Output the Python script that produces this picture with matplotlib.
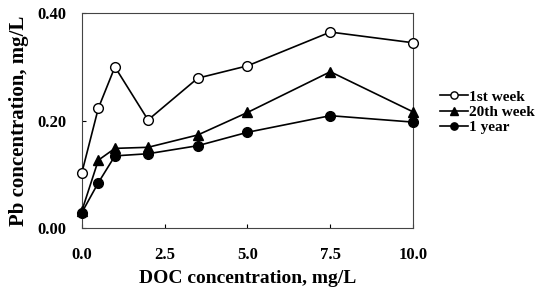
import matplotlib
matplotlib.use("Agg")
import matplotlib.pyplot as plt
from matplotlib.ticker import FormatStrFormatter

doc = [0.0, 0.5, 1.0, 2.0, 3.5, 5.0, 7.5, 10.0]
week1 = [0.102, 0.223, 0.300, 0.201, 0.279, 0.302, 0.365, 0.345]
week20 = [0.031, 0.126, 0.148, 0.150, 0.173, 0.215, 0.291, 0.216]
year1 = [0.028, 0.084, 0.134, 0.138, 0.153, 0.178, 0.209, 0.197]
labels = ["1st week", "20th week", "1 year"]

plt.rcParams["font.family"] = ["Liberation Serif", "DejaVu Serif"]
plt.rcParams["font.weight"] = "bold"

fig = plt.figure(figsize=(5.38, 2.91), dpi=100)
ax = fig.add_axes([0.152, 0.2175, 0.616, 0.7368])

style = dict(color="black", lw=1.2, markersize=7, clip_on=False, zorder=3)
ax.plot(doc, week1, marker="o", mfc="white", mec="black", mew=1.0, label=labels[0], **style)
ax.plot(doc, week20, marker="^", mfc="black", mec="black", label=labels[1], **style)
ax.plot(doc, year1, marker="o", mfc="black", mec="black", label=labels[2], **style)

ax.set_xlim(0, 10)
ax.set_ylim(0, 0.4)
ax.set_xticks([0, 2.5, 5, 7.5, 10])
ax.set_yticks([0, 0.2, 0.4])
ax.xaxis.set_major_formatter(FormatStrFormatter("%.1f"))
ax.yaxis.set_major_formatter(FormatStrFormatter("%.2f"))
ax.tick_params(direction="in", length=3, width=0.8, labelsize=12)
ax.tick_params(axis="x", pad=14)
ax.tick_params(axis="y", pad=11)
for s in ax.spines.values():
    s.set_linewidth(0.8)
    s.set_color("#444444")

ax.set_xlabel("DOC concentration, mg/L", fontsize=14, fontweight="bold", labelpad=5)
ax.set_ylabel("Pb concentration, mg/L", fontsize=15, fontweight="bold", labelpad=6)

fig.legend(loc="center left", bbox_to_anchor=(0.818, 0.615), frameon=False,
           fontsize=11, handlelength=1.8, handletextpad=0.1, labelspacing=0.1,
           markerscale=0.75, borderaxespad=0, borderpad=0)

fig.savefig("out.png", dpi=100)
